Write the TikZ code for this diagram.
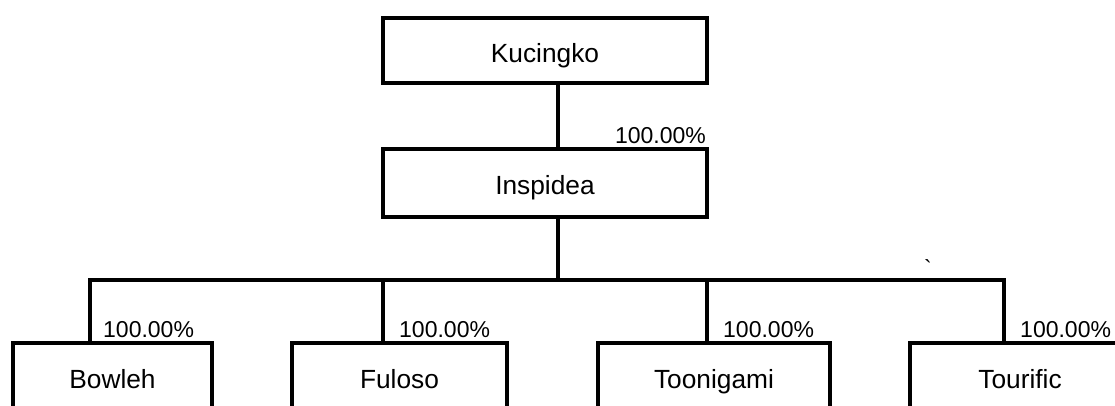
\documentclass[tikz,border=0pt]{standalone}
\usepackage{fontspec}
\setmainfont{Liberation Sans}
\newfontfamily\rawsans{Liberation Sans}[Ligatures=TeXOff]
\begin{document}
\begin{tikzpicture}[x=1pt,y=-1pt,
  entity/.style={draw=black,line width=4pt,rectangle,inner sep=0pt,
    text height=23pt,text depth=0pt,
    font=\fontsize{26.3}{30}\selectfont,text=black},
  link/.style={draw=black,line width=4pt},
  pct/.style={inner sep=0pt,font=\fontsize{23}{27}\selectfont,text=black}]
\useasboundingbox (0,0) rectangle (1115,405);
\fill[white] (0,0) rectangle (1115,405);
% boxes
\node[entity,minimum width=324pt,minimum height=65pt] (kuc) at (545,50.5) {Kucingko};
\node[entity,minimum width=324pt,minimum height=68pt] (insp) at (545,183) {Inspidea};
\node[entity,minimum width=199pt,minimum height=68pt] (bow) at (112.5,377) {Bowleh};
\node[entity,minimum width=215pt,minimum height=68pt] (ful) at (399.5,377) {Fuloso};
\node[entity,minimum width=232pt,minimum height=68pt] (toon) at (714,377) {Toonigami};
\node[entity,minimum width=220pt,minimum height=68pt] (tour) at (1020,377) {Tourific};
% junction coordinates
\coordinate (ktop) at (558,83);
\coordinate (itop) at (558,149);
\coordinate (ibot) at (558,217);
\coordinate (bar) at (558,280);
\coordinate (b1) at (90,280);
\coordinate (b2) at (383,280);
\coordinate (b3) at (707,280);
\coordinate (b4) at (1004,280);
% connectors
\draw[link] (ktop) -- (itop);
\draw[link] (ibot) -- (bar);
\draw[link,line cap=rect] (b1) -- (b4);
\draw[link] (b1) -- (b1 |- bow.north);
\draw[link] (b2) -- (b2 |- ful.north);
\draw[link] (b3) -- (b3 |- toon.north);
\draw[link] (b4) -- (b4 |- tour.north);
% percentage labels
\node[pct,anchor=base east] (p0) at (706,143) {100.00\%};
\node[pct,anchor=base west] (p1) at (103,337) {100.00\%};
\node[pct,anchor=base west] (p2) at (399,337) {100.00\%};
\node[pct,anchor=base west] (p3) at (723,337) {100.00\%};
\node[pct,anchor=base west] (p4) at (1020,337) {100.00\%};
% stray mark
\node[inner sep=0pt,font=\rawsans\fontsize{23}{27}\selectfont,anchor=base] (mark) at (928,276) {\symbol{96}};
\end{tikzpicture}
\end{document}
